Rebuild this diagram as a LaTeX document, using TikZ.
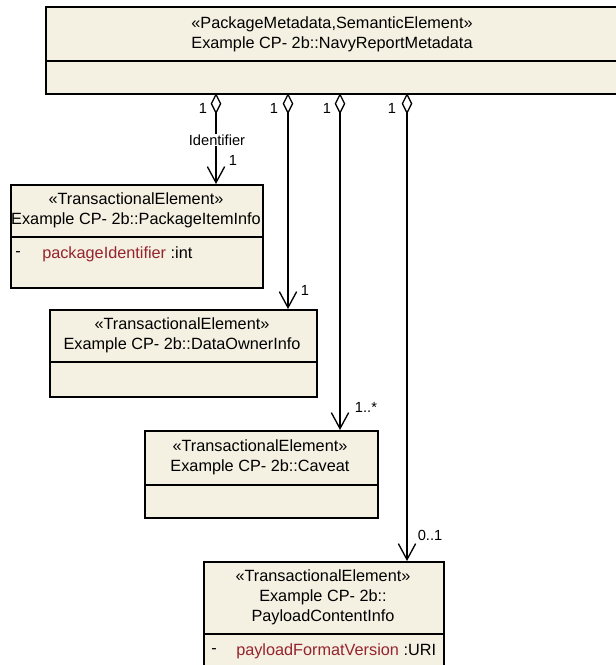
\documentclass[tikz,border=0pt]{standalone}
\usepackage{fontspec}
\setmainfont{Liberation Sans}
\usepackage{xcolor}
\usetikzlibrary{arrows.meta}
\definecolor{clsfill}{RGB}{244,241,226}
\definecolor{attrred}{RGB}{150,35,45}

\begin{document}
\begin{tikzpicture}[x=0.75pt,y=-0.75pt,
  cls/.style={draw,line width=1.2pt,fill=clsfill,inner sep=0pt,anchor=north west},
  hdr/.style={font=\fontsize{12.2}{15}\selectfont,align=center,inner sep=0pt},
  attr/.style={font=\fontsize{12.2}{15}\selectfont,anchor=west,inner sep=0pt},
  lbl/.style={font=\fontsize{11}{13}\selectfont,inner sep=0pt},
  agg/.style={{Diamond[open,length=16pt,width=8pt]}-{Straight Barb[length=12pt,width=13pt]},line width=1pt}]
  \useasboundingbox (0,0) rectangle (615,665);
  % class boxes
  \node[cls,minimum width=438.75pt,minimum height=65.25pt] (meta) at (45,6) {};
  \node[cls,minimum width=189pt,minimum height=77.25pt] (item) at (10,184) {};
  \node[cls,minimum width=200.25pt,minimum height=65.25pt] (owner) at (49,309) {};
  \node[cls,minimum width=174.75pt,minimum height=65.25pt] (caveat) at (144,430) {};
  \node[cls,minimum width=180pt,minimum height=89.25pt] (payload) at (203,561) {};
  \draw[line width=1.2pt] (meta.west |- 0,61) -- (meta.east |- 0,61);
  \draw[line width=1.2pt] (item.west |- 0,237) -- (item.east |- 0,237);
  \draw[line width=1.2pt] (owner.west |- 0,362) -- (owner.east |- 0,362);
  \draw[line width=1.2pt] (caveat.west |- 0,485) -- (caveat.east |- 0,485);
  \draw[line width=1.2pt] (payload.west |- 0,634) -- (payload.east |- 0,634);
  % headers
  \node[hdr] (metaname) at (332,34) {«PackageMetadata,SemanticElement»\\Example CP- 2b::NavyReportMetadata};
  \node[hdr] (itemname) at (136,210) {«TransactionalElement»\\Example CP- 2b::PackageItemInfo};
  \node[hdr] (ownername) at (182,335) {«TransactionalElement»\\Example CP- 2b::DataOwnerInfo};
  \node[hdr] (caveatname) at (260,457) {«TransactionalElement»\\Example CP- 2b::Caveat};
  \node[hdr] (payloadname) at (323,597) {«TransactionalElement»\\Example CP- 2b::\\PayloadContentInfo};
  % attributes
  \node[attr] (itemvis) at (15,254) {-};
  \node[attr] (itemattr) at (42,254) {\textcolor{attrred}{packageIdentifier} :int};
  \node[attr] (payloadvis) at (211,651) {-};
  \node[attr] (payloadattr) at (236,651) {\textcolor{attrred}{payloadFormatVersion} :URI};
  % associations
  \coordinate (s1) at (216,93);
  \coordinate (s2) at (288,93);
  \coordinate (s3) at (340,93);
  \coordinate (s4) at (407,93);
  \draw[agg] (s1) -- (s1 |- item.north);
  \draw[agg] (s2) -- (s2 |- owner.north);
  \draw[agg] (s3) -- (s3 |- caveat.north);
  \draw[agg] (s4) -- (s4 |- payload.north);
  % multiplicities
  \node[lbl] (m1) at (203,108) {1};
  \node[lbl] (m2) at (274,108) {1};
  \node[lbl] (m3) at (327,108) {1};
  \node[lbl] (m4) at (392,108) {1};
  \node[lbl,fill=white,inner sep=0.5pt] (role) at (217,140) {Identifier};
  \node[lbl] (n1) at (233,160) {1};
  \node[lbl] (n2) at (305,290) {1};
  \node[lbl] (n3) at (366,407) {1..*};
  \node[lbl] (n4) at (430,535) {0..1};
\end{tikzpicture}
\end{document}
